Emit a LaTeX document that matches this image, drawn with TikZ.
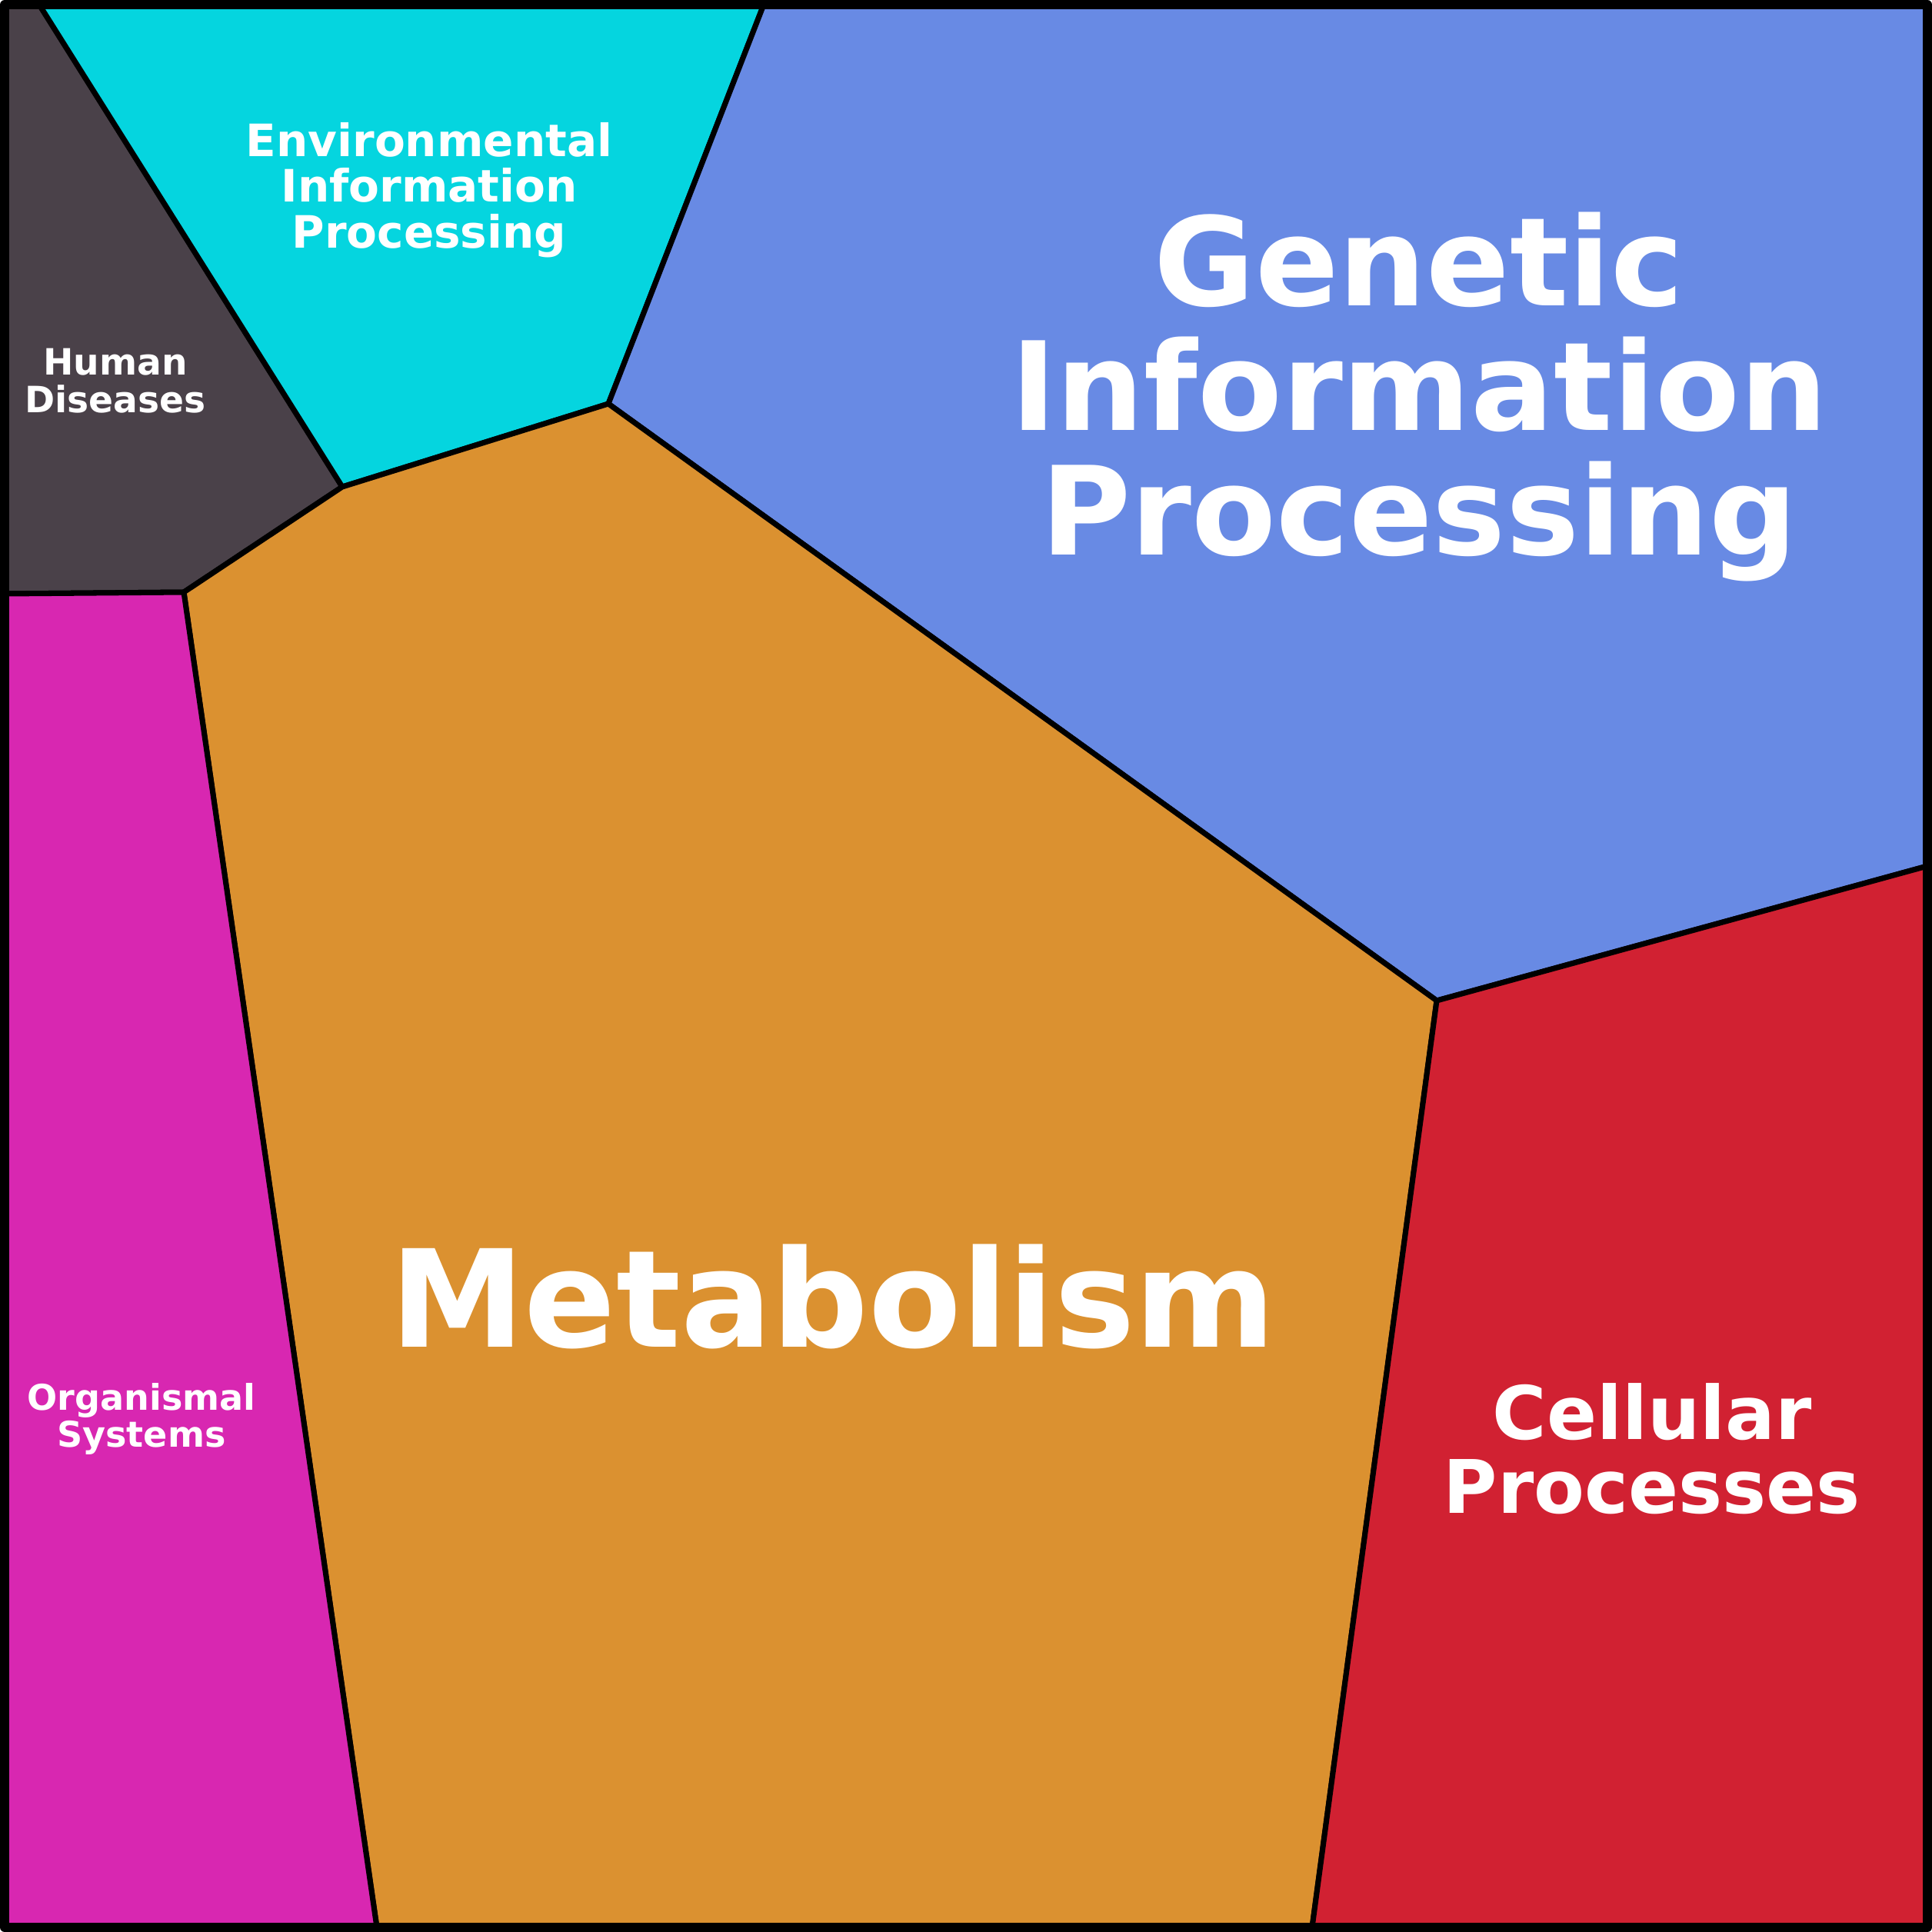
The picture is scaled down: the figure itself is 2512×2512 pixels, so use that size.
\documentclass[tikz,border=0pt]{standalone}
\usepackage{fontspec}
\setmainfont{DejaVu Sans}
\definecolor{diseases}{HTML}{4A4149}
\definecolor{environ}{HTML}{05D5DF}
\definecolor{genetic}{HTML}{688AE4}
\definecolor{metabol}{HTML}{DB9130}
\definecolor{cellular}{HTML}{D12132}
\definecolor{organism}{HTML}{D827B1}

\begin{document}
\begin{tikzpicture}[x=0.01cm, y=-0.01cm,
        region/.style={draw=black, line width=2pt, line join=round},
        label/.style={text=white, align=center, anchor=base, inner sep=0pt}]
    \useasboundingbox (0,0) rectangle (2512,2512);

    % corners of the cells
    \coordinate (tl) at (6,6);
    \coordinate (tr) at (2506,6);
    \coordinate (br) at (2506,2506);
    \coordinate (bl) at (6,2506);
    \coordinate (hdtop) at (51,6);
    \coordinate (gentop) at (993,6);
    \coordinate (envmet) at (791,525);
    \coordinate (hdmet) at (445,633);
    \coordinate (osmet) at (239,770);
    \coordinate (hdleft) at (6,772);
    \coordinate (genmet) at (1868,1301);
    \coordinate (genright) at (2506,1126);
    \coordinate (cellbot) at (1706,2506);
    \coordinate (osbot) at (490,2506);

    \fill[diseases, region] (tl) -- (hdtop) -- (hdmet) -- (osmet) -- (hdleft) -- cycle;
    \fill[environ, region] (hdtop) -- (gentop) -- (envmet) -- (hdmet) -- cycle;
    \fill[genetic, region] (gentop) -- (tr) -- (genright) -- (genmet) -- (envmet) -- cycle;
    \fill[metabol, region] (osmet) -- (hdmet) -- (envmet) -- (genmet) -- (cellbot) -- (osbot) -- cycle;
    \fill[cellular, region] (genmet) -- (genright) -- (br) -- (cellbot) -- cycle;
    \fill[organism, region] (hdleft) -- (osmet) -- (osbot) -- (bl) -- cycle;

    \draw[line width=3.4pt, line join=round] (tl) rectangle (br);

    % labels, placed at the baseline of their last line
    \node[label, font=\fontsize{45.5}{46}\selectfont\bfseries] (gip) at (1845,721)
        {Genetic\\Information\\Processing};
    \node[label, font=\fontsize{50}{50}\selectfont\bfseries] (met) at (1083,1751) {Metabolism};
    \node[label, font=\fontsize{27.3}{27.3}\selectfont\bfseries] (cell) at (2148,1967)
        {Cellular\\Processes};
    \node[label, font=\fontsize{16.5}{16.8}\selectfont\bfseries] (eip) at (558,322)
        {Environmental\\Information\\Processing};
    \node[label, font=\fontsize{13.4}{13.7}\selectfont\bfseries] (hd) at (150,536)
        {Human\\Diseases};
    \node[label, font=\fontsize{13.1}{13.4}\selectfont\bfseries] (os) at (184,1881)
        {Organismal\\Systems};
\end{tikzpicture}
\end{document}
